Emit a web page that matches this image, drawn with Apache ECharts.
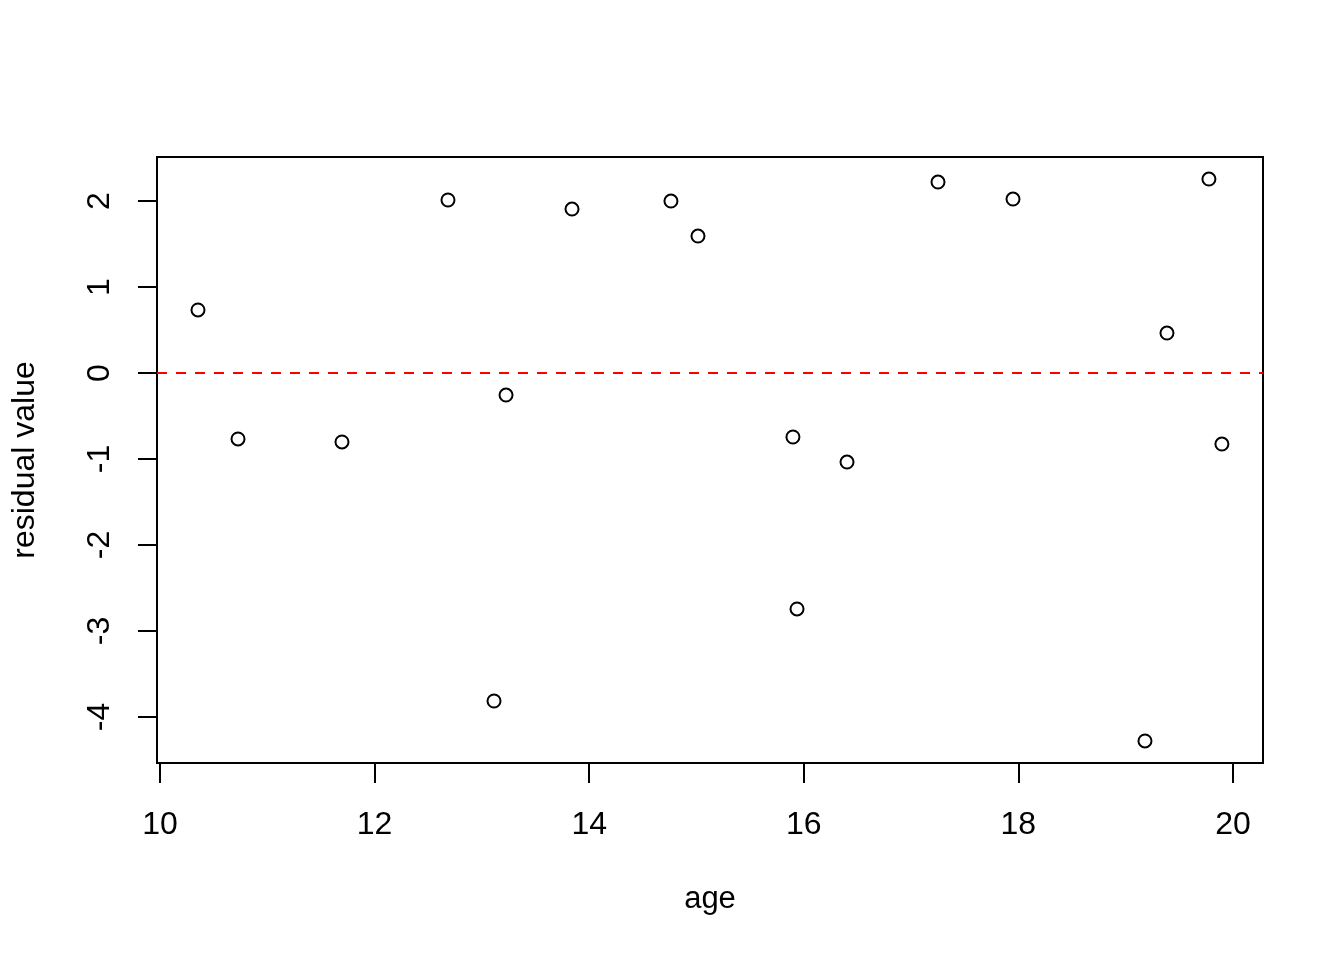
<!DOCTYPE html>
<html>
<head>
<meta charset="utf-8">
<script src="https://cdn.jsdelivr.net/npm/echarts@6/dist/echarts.min.js"></script>
<style>html,body{margin:0;padding:0;background:#fff}#c{width:1344px;height:960px}</style>
</head>
<body>
<div id="c"></div>
<script>
// Data
const age = [10.354, 10.727, 11.696, 12.684, 13.113, 13.225, 13.840, 14.762, 15.014,
             15.899, 15.937, 16.403, 17.251, 17.950, 19.180, 19.385, 19.776, 19.897];
const residual = [0.733, -0.767, -0.802, 2.012, -3.814, -0.256, 1.907, 2.000, 1.593,
                  -0.744, -2.744, -1.035, 2.221, 2.023, -4.279, 0.465, 2.256, -0.826];
const xTicks = [10, 12, 14, 16, 18, 20];
const yTicks = [-4, -3, -2, -1, 0, 1, 2];
const xRange = [9.972, 20.28];
const yRange = [-4.535, 2.512];

const font = '"Liberation Sans", Arial, sans-serif';
const chart = echarts.init(document.getElementById('c'), null, {renderer: 'canvas'});
chart.setOption({
  animation: false,
  backgroundColor: '#fff',
  grid: {left: 157, top: 157, width: 1106, height: 606, show: true,
         containLabel: false, outerBoundsMode: 'none',
         borderColor: '#000', borderWidth: 2, backgroundColor: 'transparent'},
  xAxis: {
    type: 'value', min: xRange[0], max: xRange[1],
    splitLine: {show: false},
    axisLine: {show: false, onZero: false},
    axisTick: {show: true, length: 20, lineStyle: {color: '#000', width: 2}, customValues: xTicks},
    axisLabel: {customValues: xTicks, color: '#000', fontSize: 32, fontFamily: font, margin: 46,
                showMinLabel: true, showMaxLabel: true},
    name: 'age', nameLocation: 'middle', nameGap: 121,
    nameTextStyle: {color: '#000', fontSize: 31, fontFamily: font}
  },
  yAxis: {
    type: 'value', min: yRange[0], max: yRange[1],
    splitLine: {show: false},
    axisLine: {show: false, onZero: false},
    axisTick: {show: true, length: 19, lineStyle: {color: '#000', width: 2}, customValues: yTicks},
    axisLabel: {customValues: yTicks, color: '#000', fontSize: 32, fontFamily: font, margin: 41, rotate: 90,
                showMinLabel: true, showMaxLabel: true},
    name: 'residual value', nameLocation: 'middle', nameGap: 116, nameRotate: 90,
    nameTextStyle: {color: '#000', fontSize: 32, fontFamily: font}
  },
  series: [{
    type: 'scatter',
    data: age.map((a, i) => [a, residual[i]]),
    symbol: 'circle', symbolSize: 13,
    itemStyle: {color: 'rgba(0,0,0,0)', borderColor: '#000', borderWidth: 2, opacity: 1},
    markLine: {
      silent: true, symbol: ['none', 'none'], label: {show: false},
      lineStyle: {color: '#ff0000', type: [10, 9], width: 2, opacity: 1},
      data: [{yAxis: 0}]
    }
  }]
});
</script>
</body>
</html>
